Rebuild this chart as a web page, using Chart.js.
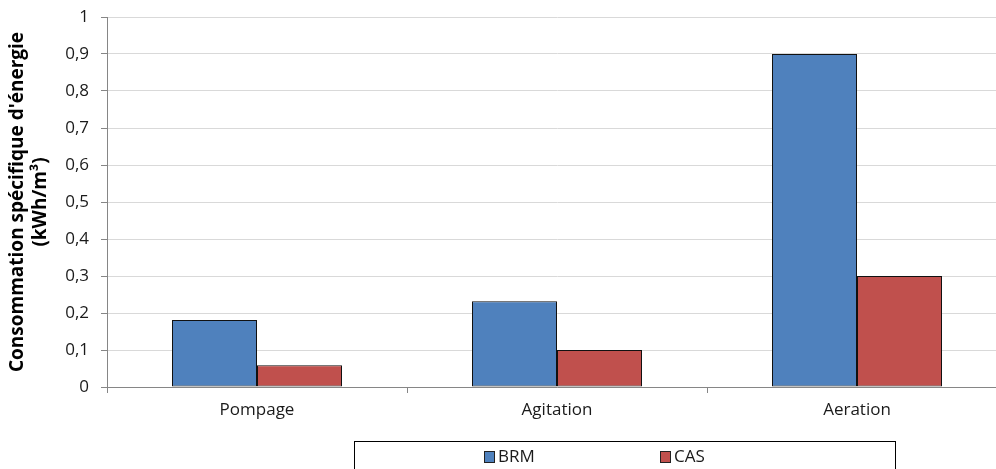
<!DOCTYPE html>
<html><head><meta charset="utf-8">
<script src="https://cdn.jsdelivr.net/npm/chart.js@4/dist/chart.umd.min.js"></script>
<style>html,body{margin:0;padding:0;overflow:hidden;background:#fff}#wrap{width:1007px;height:469px}</style>
</head><body><div id="wrap"><canvas id="c" width="1007" height="469"></canvas></div>
<script>
const categories = ["Pompage", "Agitation", "Aeration"];
const brmValues = [0.181, 0.232, 0.9];
const casValues = [0.059, 0.1, 0.3];
const seriesNames = ["BRM", "CAS"];
const yTitle = ["Consommation spécifique d'énergie", "(kWh/m³)"];
const FONT = "'Open Sans', sans-serif";

const legendPlugin = {
  id: 'boxLegend',
  afterDraw(chart) {
    const ctx = chart.ctx;
    ctx.save();
    ctx.strokeStyle = '#000';
    ctx.lineWidth = 1;
    ctx.strokeRect(354.5, 441.5, 541, 40);
    const xs = [484, 660];
    ctx.font = "17px " + FONT;
    ctx.textBaseline = 'middle';
    chart.data.datasets.forEach((ds, i) => {
      ctx.fillStyle = ds.backgroundColor;
      ctx.fillRect(xs[i], 451, 10, 11);
      ctx.strokeStyle = '#222';
      ctx.strokeRect(xs[i] + 0.5, 451.5, 10, 11);
      ctx.fillStyle = '#1a1a1a';
      ctx.fillText(ds.label, xs[i] + 14, 457);
    });
    ctx.restore();
  }
};

new Chart(document.getElementById('c'), {
  type: 'bar',
  data: {
    labels: categories,
    datasets: [
      { label: seriesNames[0], data: brmValues, backgroundColor: '#4F81BD', borderColor: '#111', borderWidth: 1, borderSkipped: false, categoryPercentage: 170 / 300, barPercentage: 1 },
      { label: seriesNames[1], data: casValues, backgroundColor: '#C0504D', borderColor: '#111', borderWidth: 1, borderSkipped: false, categoryPercentage: 170 / 300, barPercentage: 1 }
    ]
  },
  options: {
    responsive: false,
    animation: false,
    layout: { padding: { top: 17, right: 0, left: 0, bottom: 0 } },
    plugins: { legend: { display: false }, tooltip: { enabled: false } },
    scales: {
      x: {
        offset: true,
        grid: { offset: true, drawOnChartArea: false, color: '#868686', tickLength: 6 },
        border: { color: '#868686' },
        ticks: { color: '#1a1a1a', font: { family: FONT, size: 17 }, padding: 7 },
        afterFit(s) { s.height = 82; s.paddingLeft = 0; s.paddingRight = 0; }
      },
      y: {
        min: 0, max: 1,
        ticks: { stepSize: 0.1, color: '#1a1a1a', font: { family: FONT, size: 17 }, padding: 12,
          callback: v => (Math.round(v * 10) / 10).toString().replace('.', ',') },
        grid: { color: '#d9d9d9', tickColor: '#868686', tickLength: 6 },
        border: { color: '#868686' },
        title: { display: true, text: yTitle, color: '#000', font: { family: FONT, size: 19, weight: 'bold' }, padding: { top: 6, bottom: 0 } },
        afterFit(s) { s.width = 107; s.paddingTop = 0; s.paddingBottom = 0; }
      }
    }
  },
  plugins: [legendPlugin]
});
</script></body></html>
